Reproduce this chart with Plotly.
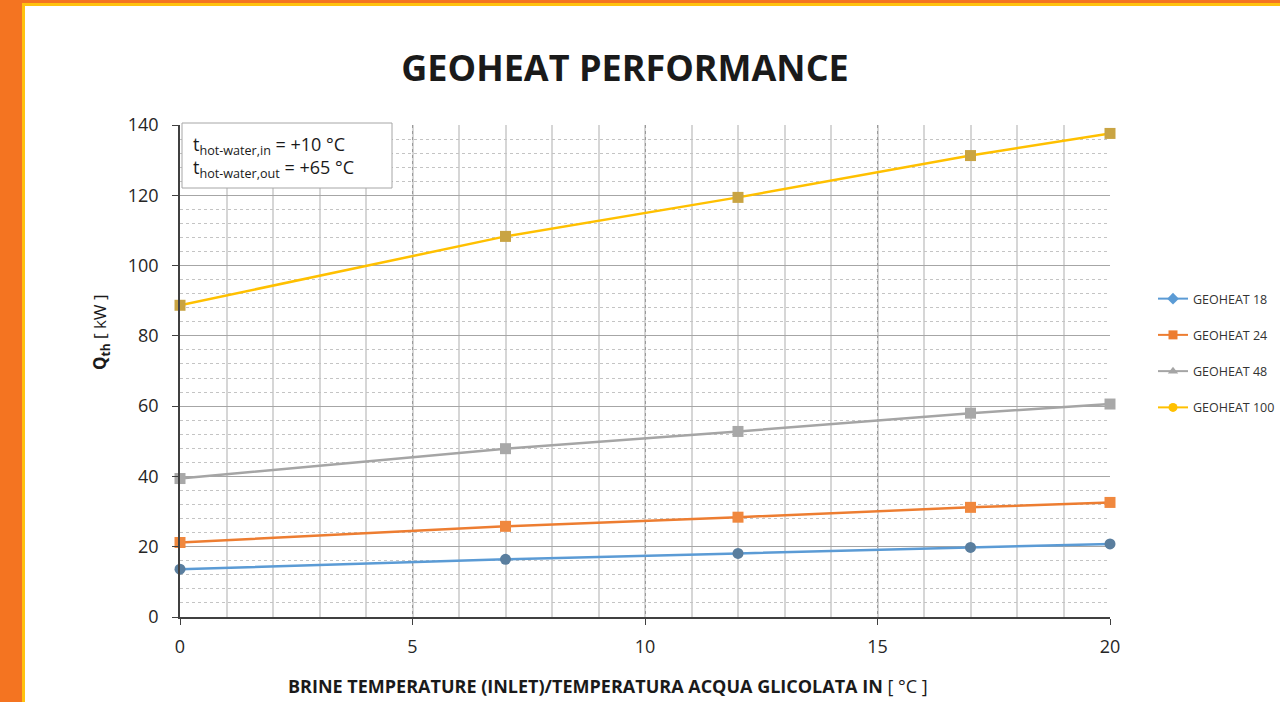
import plotly.graph_objects as go

# ---- data ----
brine_temp = [0, 7, 12, 17, 20]
geoheat_18 = [13.6, 16.4, 18.1, 19.8, 20.8]
geoheat_24 = [21.2, 25.8, 28.4, 31.2, 32.6]
geoheat_48 = [39.4, 47.9, 52.8, 58.0, 60.6]
geoheat_100 = [88.7, 108.3, 119.4, 131.3, 137.6]
series_names = ["GEOHEAT 18", "GEOHEAT 24", "GEOHEAT 48", "GEOHEAT 100"]
x_ticks = [0, 5, 10, 15, 20]
y_ticks = [0, 20, 40, 60, 80, 100, 120, 140]

W, H = 1280, 702
L, R, T, B = 180, 170, 125, 85
pw, ph = W - L - R, H - T - B

def px(xp):
    return (xp - L) / pw

def py(yp):
    return (H - B - yp) / ph

line_colors = ["#5B9BD5", "#ED7D31", "#A5A5A5", "#FFC000"]
plot_marker_colors = ["#5A7E9E", "#F0883E", "#A8A8A8", "#C9A443"]
plot_symbols = ["circle", "square", "square", "square"]
legend_symbols = ["diamond", "square", "triangle-up", "circle"]
legend_marker_colors = ["#5B9BD5", "#ED7D31", "#A5A5A5", "#FFC000"]
series_values = [geoheat_18, geoheat_24, geoheat_48, geoheat_100]

fig = go.Figure()
for i, (name, vals) in enumerate(zip(series_names, series_values)):
    fig.add_trace(go.Scatter(
        x=brine_temp, y=vals, mode="lines+markers", name=name,
        showlegend=False, cliponaxis=False,
        line=dict(color=line_colors[i], width=2.5),
        marker=dict(symbol=plot_symbols[i], size=11, color=plot_marker_colors[i],
                    line=dict(width=0)),
    ))
for i, name in enumerate(series_names):
    fig.add_trace(go.Scatter(
        x=[None], y=[None], mode="lines+markers", name=name,
        legendgroup=name,
        line=dict(color=line_colors[i], width=2),
        marker=dict(symbol=legend_symbols[i], size=9, color=legend_marker_colors[i]),
    ))

FONT = "Open Sans"

fig.update_layout(
    width=W, height=H,
    margin=dict(l=L, r=R, t=T, b=B, autoexpand=False),
    paper_bgcolor="white", plot_bgcolor="white",
    font=dict(family=FONT, color="#262626"),
    title=dict(text="<b>GEOHEAT PERFORMANCE</b>", x=625 / W, xanchor="center",
               y=1 - 68 / H, yanchor="middle",
               font=dict(size=36, family=FONT, color="#1A1A1A")),
    showlegend=True,
    legend=dict(x=px(1153), xanchor="left", y=py(353), yanchor="middle",
                font=dict(size=12.5, family=FONT, color="#333333"),
                tracegroupgap=17, itemwidth=30, bgcolor="rgba(0,0,0,0)"),
    xaxis=dict(
        range=[0, 20], tickvals=x_ticks, ticktext=[str(v) for v in x_ticks],
        showline=True, linecolor="#404040", linewidth=1.5,
        ticks="outside", ticklen=6, tickcolor="#404040", ticklabelstandoff=7,
        showgrid=True, gridcolor="#9A9A9A", griddash="dot", gridwidth=1,
        minor=dict(dtick=1, showgrid=True, gridcolor="#D6D6D6", griddash="solid",
                   gridwidth=1.5, ticks=""),
        zeroline=False,
        tickfont=dict(size=18, family=FONT, color="#262626"),
    ),
    yaxis=dict(
        range=[0, 140], tickvals=y_ticks, ticktext=[str(v) for v in y_ticks],
        showline=True, linecolor="#404040", linewidth=1.5,
        ticks="outside", ticklen=6, tickcolor="#404040", ticklabelstandoff=10,
        showgrid=True, gridcolor="#A6A6A6", gridwidth=1.2,
        minor=dict(dtick=4, showgrid=True, gridcolor="#C4C4C4", griddash="dot",
                   gridwidth=1, ticks=""),
        zeroline=False,
        tickfont=dict(size=18, family=FONT, color="#262626"),
    ),
)

# axis titles (placed as in the reference, off-centre)
fig.add_annotation(xref="paper", yref="paper", x=px(608), y=py(686), xanchor="center", yanchor="middle",
                   text="<b>BRINE TEMPERATURE (INLET)/TEMPERATURA ACQUA GLICOLATA IN</b> [ °C ]",
                   showarrow=False, font=dict(size=18, family=FONT, color="#1A1A1A"))
fig.add_annotation(xref="paper", yref="paper", x=px(100), y=py(332), xanchor="center", yanchor="middle",
                   text="<b>Q<sub>th</sub></b> [ kW ]", textangle=-90,
                   showarrow=False, font=dict(size=17, family=FONT, color="#1A1A1A"))

# annotation box
fig.add_shape(type="rect", xref="paper", yref="paper",
              x0=px(182), x1=px(392), y0=py(188), y1=py(123),
              line=dict(color="#A6A6A6", width=1), fillcolor="white", layer="above")
fig.add_annotation(xref="paper", yref="paper", x=px(191), y=py(145), xanchor="left", yanchor="middle",
                   text="t<sub>hot-water,in</sub> = +10 °C", showarrow=False,
                   font=dict(size=18, family=FONT, color="#1A1A1A"))
fig.add_annotation(xref="paper", yref="paper", x=px(191), y=py(168), xanchor="left", yanchor="middle",
                   text="t<sub>hot-water,out</sub> = +65 °C", showarrow=False,
                   font=dict(size=18, family=FONT, color="#1A1A1A"))

# frame
ORANGE = "#F47421"
YELLOW = "#FFC20E"
fig.add_shape(type="rect", xref="paper", yref="paper", layer="above",
              x0=px(0), x1=px(22), y0=py(H), y1=py(0), line=dict(width=0), fillcolor=ORANGE)
fig.add_shape(type="rect", xref="paper", yref="paper", layer="above",
              x0=px(0), x1=px(W), y0=py(3), y1=py(0), line=dict(width=0), fillcolor=ORANGE)
fig.add_shape(type="rect", xref="paper", yref="paper", layer="above",
              x0=px(22), x1=px(25), y0=py(H), y1=py(3), line=dict(width=0), fillcolor=YELLOW)
fig.add_shape(type="rect", xref="paper", yref="paper", layer="above",
              x0=px(22), x1=px(W), y0=py(6), y1=py(3), line=dict(width=0), fillcolor=YELLOW)

fig.write_html("out.html", config={"displayModeBar": False},
               post_script="document.body.style.margin='0';document.body.style.overflow='hidden';")
